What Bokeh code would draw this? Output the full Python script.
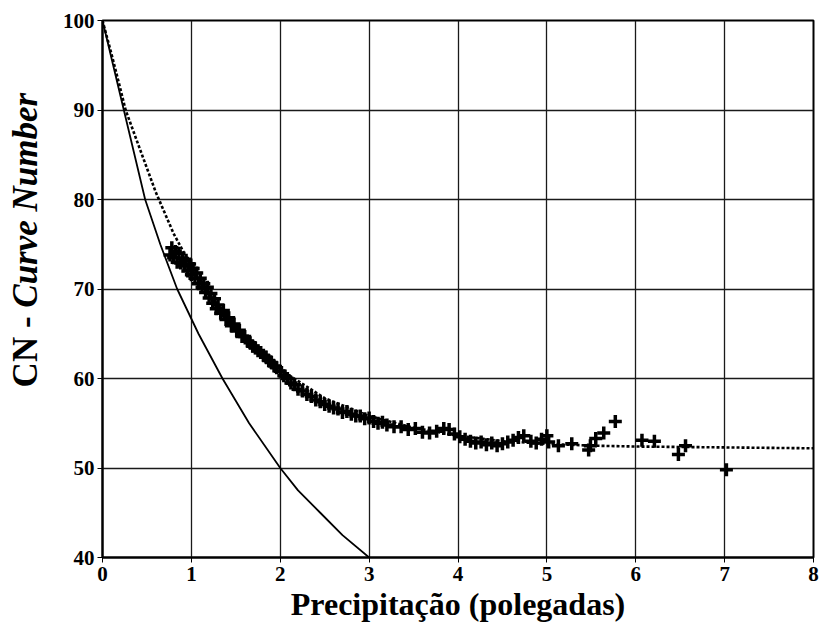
import math
from bokeh.plotting import figure
from bokeh.layouts import row
from bokeh.models import Range1d, FixedTicker
from bokeh.core.properties import value
from bokeh.embed import file_html
from bokeh.resources import INLINE

# Observed CN values (scatter)
obs_x = [0.76, 0.78, 0.80, 0.82, 0.84, 0.86, 0.88, 0.90, 0.92, 0.94, 0.96, 0.98,
         1.00, 1.02, 1.04, 1.06, 1.08, 1.10, 1.12, 1.14, 1.16, 1.18, 1.20, 1.22,
         1.24, 1.26, 1.28, 1.30, 1.33, 1.36, 1.39, 1.42, 1.45, 1.48, 1.51, 1.54,
         1.57, 1.60, 1.63, 1.66, 1.69, 1.72, 1.75, 1.78, 1.81, 1.84, 1.87, 1.90,
         1.93, 1.96, 2.00, 2.04, 2.08, 2.12, 2.16, 2.20, 2.25, 2.30, 2.35, 2.40,
         2.45, 2.50, 2.55, 2.60, 2.65, 2.70, 2.75, 2.80, 2.85, 2.90, 2.95, 3.00,
         3.05, 3.10, 3.15, 3.20, 3.28, 3.36, 3.44, 3.52, 3.60, 3.68, 3.76, 3.84,
         3.90, 3.96, 4.02, 4.08, 4.14, 4.20, 4.26, 4.32, 4.38, 4.44, 4.50, 4.56,
         4.62, 4.68, 4.74, 4.82, 4.88, 4.94, 5.00, 5.02, 5.13, 5.28, 5.47, 5.49,
         5.55, 5.64, 5.77, 6.07, 6.21, 6.48, 6.56, 7.02]
obs_y = [73.8, 74.6, 73.5, 74.2, 73.0, 74.0, 72.9, 73.4, 72.6, 73.2, 72.0, 72.8,
         71.6, 72.3, 71.2, 71.8, 70.6, 71.2, 70.2, 70.6, 69.6, 70.2, 69.0, 69.5,
         68.4, 68.9, 67.8, 68.2, 67.3, 67.6, 66.6, 66.8, 65.9, 66.1, 65.3, 65.4,
         64.7, 64.7, 64.2, 64.0, 63.6, 63.4, 63.1, 62.9, 62.6, 62.4, 62.0, 61.8,
         61.4, 61.2, 60.8, 60.3, 60.0, 59.5, 59.3, 58.8, 58.6, 58.2, 58.0, 57.6,
         57.4, 57.1, 56.9, 56.7, 56.6, 56.2, 56.3, 56.0, 55.8, 55.8, 55.5, 55.6,
         55.2, 55.0, 55.1, 54.8, 54.6, 54.6, 54.3, 54.4, 54.0, 53.9, 54.1, 54.4,
         54.3, 53.8, 53.5, 53.2, 53.0, 52.8, 52.9, 52.6, 52.8, 52.5, 52.7, 52.9,
         53.1, 53.4, 53.6, 53.0, 52.8, 53.2, 53.6, 52.9, 52.5, 52.7, 52.0, 52.5,
         53.3, 53.9, 55.2, 53.1, 53.0, 51.5, 52.5, 49.8]

# Fitted (dotted) curve
fit_x = [0.0, 0.1, 0.2, 0.26, 0.4, 0.6, 0.8, 1.0, 1.25, 1.5, 1.75, 2.0, 2.5,
         3.0, 3.5, 4.0, 4.5, 5.0, 5.5, 6.0, 7.0, 8.0]
fit_y = [100.0, 96.3, 92.4, 90.0, 86.2, 80.8, 76.2, 72.5, 68.8, 65.8, 63.2,
         61.0, 57.8, 55.8, 54.5, 53.6, 53.0, 52.7, 52.5, 52.4, 52.3, 52.2]

# Standard (solid) curve
std_x = [0.0, 0.12, 0.24, 0.36, 0.48, 0.65, 0.84, 1.08, 1.35, 1.65, 2.0, 2.2,
         2.45, 2.7, 3.0]
std_y = [100.0, 95.0, 90.0, 85.0, 80.0, 75.0, 70.0, 65.0, 60.0, 55.0, 50.0,
         47.5, 45.0, 42.5, 40.0]

x_ticks = [0, 1, 2, 3, 4, 5, 6, 7, 8]
y_ticks = [40, 50, 60, 70, 80, 90, 100]

y_title_plain = "CN - "
y_title_italic = "Curve Number"
x_title = "Precipitação (polegadas)"

SERIF = "Liberation Serif"
LEFT_W = 50
H = 632

# Side strip holding the mixed-style y-axis title
side = figure(width=LEFT_W, height=H, output_backend="svg",
              toolbar_location=None, x_range=Range1d(0, LEFT_W),
              y_range=Range1d(0, H), x_axis_location=None,
              y_axis_location=None, min_border=0)
side.outline_line_color = None
side.grid.visible = False
join_y = H - 338
side.text(x=[25], y=[join_y], text=[y_title_plain], angle=math.pi / 2,
          text_font=value(SERIF), text_font_style="bold",
          text_font_size="35px", text_color="black",
          text_align="right", text_baseline="middle")
side.text(x=[25], y=[join_y], text=[y_title_italic], angle=math.pi / 2,
          text_font=value(SERIF), text_font_style="bold italic",
          text_font_size="35px", text_color="black",
          text_align="left", text_baseline="middle")

p = figure(width=819 - LEFT_W, height=H, output_backend="svg",
           toolbar_location=None,
           x_range=Range1d(0, 8), y_range=Range1d(40, 100),
           min_border_left=102 - LEFT_W, min_border_right=6,
           min_border_top=20, min_border_bottom=75)
p.background_fill_color = "white"
p.border_fill_color = "white"
p.outline_line_color = "black"
p.outline_line_width = 2

for ax in (p.xaxis[0], p.yaxis[0]):
    ax.major_label_text_font = SERIF
    ax.major_label_text_font_style = "bold"
    ax.major_label_text_font_size = "21px"
    ax.major_label_text_color = "black"
    ax.axis_line_color = "black"
    ax.axis_line_width = 2
    ax.major_tick_line_color = "black"
    ax.major_tick_in = 0
    ax.major_tick_out = 5
    ax.minor_tick_line_color = None

p.xaxis[0].ticker = FixedTicker(ticks=x_ticks)
p.yaxis[0].ticker = FixedTicker(ticks=y_ticks)
p.xaxis[0].major_label_standoff = 4
p.yaxis[0].major_label_standoff = 3

p.xaxis[0].axis_label = x_title
p.xaxis[0].axis_label_text_font = SERIF
p.xaxis[0].axis_label_text_font_style = "bold"
p.xaxis[0].axis_label_text_font_size = "32px"
p.xaxis[0].axis_label_text_color = "black"
p.xaxis[0].axis_label_standoff = 2

p.xgrid.ticker = FixedTicker(ticks=x_ticks)
p.ygrid.ticker = FixedTicker(ticks=y_ticks)
p.grid.grid_line_color = "#1a1a1a"
p.grid.grid_line_width = 1.3

p.line(std_x, std_y, line_color="black", line_width=1.8)
p.line(fit_x, fit_y, line_color="black", line_width=2.6, line_dash="3 2")
p.scatter(obs_x, obs_y, marker="cross", size=13, line_color="black",
          line_width=3.5)

layout = row(side, p, spacing=0)
open("out.html", "w").write(file_html(layout, INLINE))
